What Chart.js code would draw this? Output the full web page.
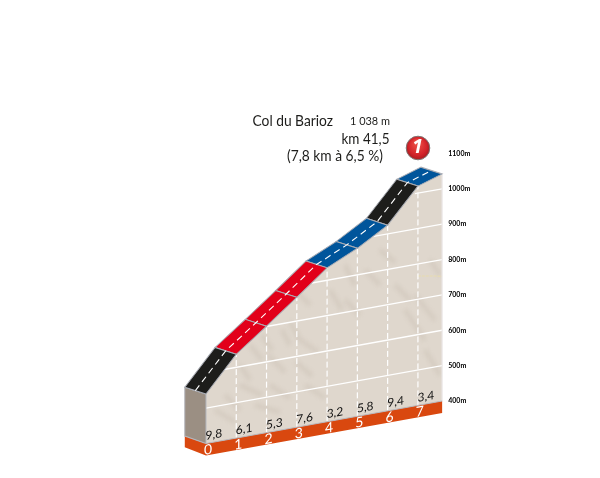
<!DOCTYPE html>
<html>
<head>
<meta charset="utf-8">
<title>Col du Barioz</title>
<script src="https://cdn.jsdelivr.net/npm/chart.js@4/dist/chart.umd.min.js"></script>
<style>
  html, body { margin: 0; padding: 0; background: #fff; }
  canvas { display: block; }
</style>
</head>
<body>
<canvas id="profil" width="600" height="478"></canvas>
<script>
// profile
const kmMarks = [0, 1, 2, 3, 4, 5, 6, 7, 7.8];
const altitudes = [540, 637, 701, 767, 835, 875, 925, 1020, 1042];
const gradients = ["9,8", "6,1", "5,3", "7,6", "3,2", "5,8", "9,4", "3,4"];
const kmLabels = ["0", "1", "2", "3", "4", "5", "6", "7"];
const segmentColors = ["#1d1d1b", "#e2001a", "#e2001a", "#e2001a", "#00559b", "#00559b", "#1d1d1b", "#00559b"];
const gridLevels = [500, 600, 700, 800, 900, 1000];
const gridStartKm = [0, 0.6, 2, 3.5, 5.5, 6.9];

const BASE = 400;
const BAND = 34;      // depth of the orange strip, in metres
const ROAD_KM = 0.7;  // width of the road seen in perspective
const ROAD_M = 30;
const SHEAR = 0.18;
const END_X = 442;

// faint relief marks of the background map, in canvas pixels
const ridges = [
  [282, 330, 290, 345], [290, 322, 300, 340], [262, 335, 272, 350], [250, 345, 262, 360], [268, 355, 285, 372],
  [296, 362, 312, 376], [300, 340, 318, 352], [240, 385, 262, 395], [270, 385, 290, 398], [305, 385, 325, 398],
  [225, 395, 240, 410], [215, 410, 235, 422], [255, 405, 280, 412], [345, 300, 360, 315], [395, 285, 410, 300],
  [415, 295, 435, 320], [405, 310, 425, 340], [330, 290, 342, 310], [380, 250, 395, 262], [365, 270, 380, 285],
  [345, 265, 355, 285], [295, 290, 310, 305], [430, 260, 440, 275], [425, 350, 440, 375], [240, 365, 250, 380]
];

function line(points, color, width, dash) {
  return {
    data: points, borderColor: color, borderWidth: width, borderDash: dash || [],
    pointRadius: 0, showLine: true, fill: false, clip: false, tension: 0
  };
}

function shape(points, color, border) {
  return {
    data: points, backgroundColor: color, borderColor: border || color, borderWidth: border ? 1 : 0,
    pointRadius: 0, showLine: true, fill: "shape", clip: false, tension: 0
  };
}

function reliefPattern(ctx) {
  const off = document.createElement("canvas");
  off.width = 600;
  off.height = 478;
  const o = off.getContext("2d");
  o.fillStyle = "#dfd7cd";
  o.fillRect(0, 0, 600, 478);
  o.transform(1, SHEAR, 0, 1, 0, -SHEAR * END_X);
  o.filter = "blur(2px)";
  o.strokeStyle = "rgba(150,132,115,0.24)";
  o.lineWidth = 2.5;
  ridges.forEach((r) => {
    o.beginPath();
    o.moveTo(r[0], r[1]);
    o.lineTo(r[2], r[3]);
    o.stroke();
  });
  return ctx.createPattern(off, "repeat");
}

const xy = (x, y) => ({ x: x, y: y });
const profile = kmMarks.map((k, i) => xy(k, altitudes[i]));
const first = profile[0];
const last = profile[profile.length - 1];

let datasets = [];

// road, on top
datasets.push(line(profile.map((p) => xy(p.x - ROAD_KM / 2, p.y + ROAD_M / 2)), "#fff", 1.2, [6, 4]));
segmentColors.forEach((color, i) => {
  const a = profile[i];
  const b = profile[i + 1];
  datasets.push(shape([a, b, xy(b.x - ROAD_KM, b.y + ROAD_M), xy(a.x - ROAD_KM, a.y + ROAD_M), a], color, "#a9acb4"));
});

// start block and orange strip
datasets.push(line([xy(0, BASE), xy(last.x, BASE)], "#b9bbc1", 1));
datasets.push(shape([xy(0, BASE), first, xy(-ROAD_KM, first.y + ROAD_M), xy(-ROAD_KM, BASE + ROAD_M + 2), xy(0, BASE)], "#9b8f83", "#b4b6bc"));
datasets.push(shape([xy(0, BASE), xy(last.x, BASE), xy(last.x, BASE - BAND), xy(0, BASE - BAND), xy(-ROAD_KM, BASE), xy(-ROAD_KM, BASE + ROAD_M + 2), xy(0, BASE)], "#d9480f"));

// grid over the terrain
datasets.push(line([xy(last.x, BASE), last], "#eceaea", 1.2));
kmMarks.slice(1, 8).forEach((k, i) => {
  datasets.push(line([xy(k, BASE), xy(k, altitudes[i + 1])], "#fff", 1.2, [6, 3]));
});
gridLevels.forEach((v, i) => {
  datasets.push(line([xy(gridStartKm[i], v), xy(last.x, v)], "#fff", 1.3));
});
datasets.push(line([xy(7, 766), xy(7.8, 753)], "#e8dcae", 1, [3, 1]));

// terrain
const ctx = document.getElementById("profil").getContext("2d");
datasets.push(shape([xy(0, BASE)].concat(profile, [xy(last.x, BASE), xy(0, BASE)]), reliefPattern(ctx)));

const perspective = {
  id: "perspective",
  beforeDatasetsDraw(chart) {
    chart.ctx.save();
    chart.ctx.transform(1, -SHEAR, 0, 1, 0, SHEAR * END_X);
  },
  afterDatasetsDraw(chart) {
    const c = chart.ctx;
    const x = chart.scales.x;
    const y = chart.scales.y;
    c.textAlign = "center";
    c.textBaseline = "middle";
    // gradients just above the strip, km numbers inside it
    c.fillStyle = "#111";
    c.font = '12px "Lato"';
    gradients.forEach((g, i) => {
      c.fillText(g, x.getPixelForValue(kmMarks[i] + 0.26), y.getPixelForValue(BASE + 21));
    });
    c.fillStyle = "#fff";
    c.font = '14px "Lato"';
    kmLabels.forEach((t, i) => {
      c.fillText(t, x.getPixelForValue(kmMarks[i]) + 2, y.getPixelForValue(BASE - 19));
    });
    c.restore();
  },
  afterDraw(chart) {
    const c = chart.ctx;
    c.save();
    c.fillStyle = "#1d1d1b";
    c.textBaseline = "middle";
    c.textAlign = "left";
    c.font = '15px "Lato"';
    c.fillText("Col du Barioz", 252.5, 121.5, 80.5);
    c.font = '12px "Lato"';
    c.fillText("1 038 m", 350, 121.5, 40);
    c.textAlign = "right";
    c.font = '15px "Lato"';
    c.fillText("km 41,5", 389.5, 139, 48);
    c.fillText("(7,8 km à 6,5 %)", 383, 156, 96);
    // climb badge
    const g = c.createRadialGradient(417, 142, 1, 418, 148, 12.5);
    g.addColorStop(0, "#ee5348");
    g.addColorStop(0.7, "#d3232a");
    g.addColorStop(1, "#a31a1e");
    c.fillStyle = g;
    c.strokeStyle = "#7d7674";
    c.lineWidth = 1;
    c.beginPath();
    c.arc(418, 148, 11.8, 0, Math.PI * 2);
    c.fill();
    c.stroke();
    c.fillStyle = "#fff";
    c.textAlign = "center";
    c.font = 'italic bold 19px "Open Sans"';
    c.fillText("1", 417.5, 148);
    c.restore();
  }
};

new Chart(ctx, {
  type: "scatter",
  data: { datasets: datasets },
  plugins: [perspective],
  options: {
    responsive: false,
    animation: false,
    devicePixelRatio: 1,
    layout: { padding: { left: 175.7, top: 118.1, right: 111.8, bottom: 41.6 } },
    plugins: { legend: { display: false }, tooltip: { enabled: false } },
    scales: {
      x: { type: "linear", min: -1, max: 8, display: false },
      y: {
        type: "linear",
        position: "right",
        min: 300,
        max: 1200,
        grid: { display: false, drawTicks: false, tickLength: 0 },
        border: { display: false },
        afterFit(scale) { scale.width = 40; },
        ticks: {
          stepSize: 100,
          padding: 0,
          color: "#000",
          font: { family: "Lato", size: 7, weight: "bold" },
          callback: (v) => (v < 400 || v > 1100 ? "" : v + "m")
        }
      }
    }
  }
});
</script>
</body>
</html>
